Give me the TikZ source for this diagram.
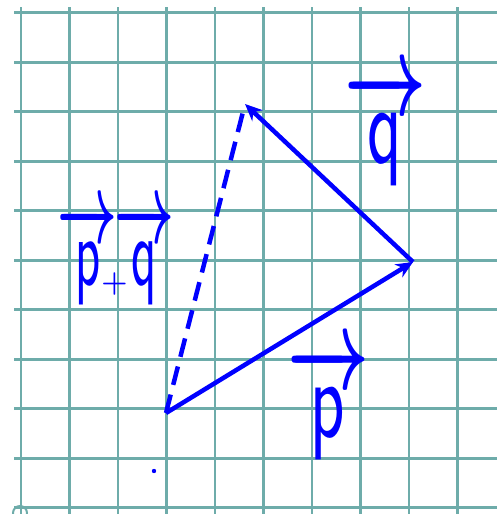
\RequirePackage{fix-cm}
\documentclass[tikz,border=0pt]{standalone}
\usepackage{xcolor}
\definecolor{gridcol}{RGB}{110,172,170}
\definecolor{inkblue}{RGB}{0,0,255}
\usetikzlibrary{arrows.meta, positioning, calc}
\tikzset{
	gridline/.style={draw=gridcol, line width=2.6pt},
	vecarr/.style={-{Stealth[length=17pt,width=15pt]}, draw=inkblue, line width=4.5pt},
	sumarr/.style={draw=inkblue, line width=4.5pt, dash pattern=on 19pt off 10pt},
	veclbl/.style={text=inkblue, inner sep=0pt, font=\fontsize{#1}{#1}\selectfont\boldmath},
	veclbl/.default=115,
}
\newcommand{\handvec}[2][0.62]{\scalebox{#1}[1]{$\overrightarrow{\textsf{#2}}$}}

\begin{document}
\begin{tikzpicture}[x=1pt, y=-1pt]
	\useasboundingbox (0,0) rectangle (497,514);
	% squared paper
	\foreach \k in {0,...,9}
		\draw[gridline] (21+48.5*\k,7) -- (21+48.5*\k,514);
	\foreach \k in {0,...,10}
		\draw[gridline] (14,12.7+49.5*\k) -- (497,12.7+49.5*\k);
	\draw[draw=gridcol, line width=2pt] (20,513) circle (7);

	% triangle of vectors
	\coordinate (O) at (166,413);
	\coordinate (A) at (413,262);
	\coordinate (B) at (245,104);
	\draw[sumarr] (O) -- (B);
	\draw[vecarr] (O) -- (A);
	\draw[vecarr] (A) -- (B);
	\fill[inkblue] (154,471) circle (2.2);

	% labels
	\node[veclbl] (plbl) at (328,402) {\handvec{p}};
	\node[veclbl] (qlbl) at (385,128) {\handvec{q}};
	\node[veclbl=100] (sumlbl) at (116,254) {\handvec[0.52]{p}\hspace{-3pt}\makebox[0pt]{\raisebox{-6pt}{\scalebox{0.3}{$+$}}}\handvec[0.52]{q}};
\end{tikzpicture}
\end{document}
